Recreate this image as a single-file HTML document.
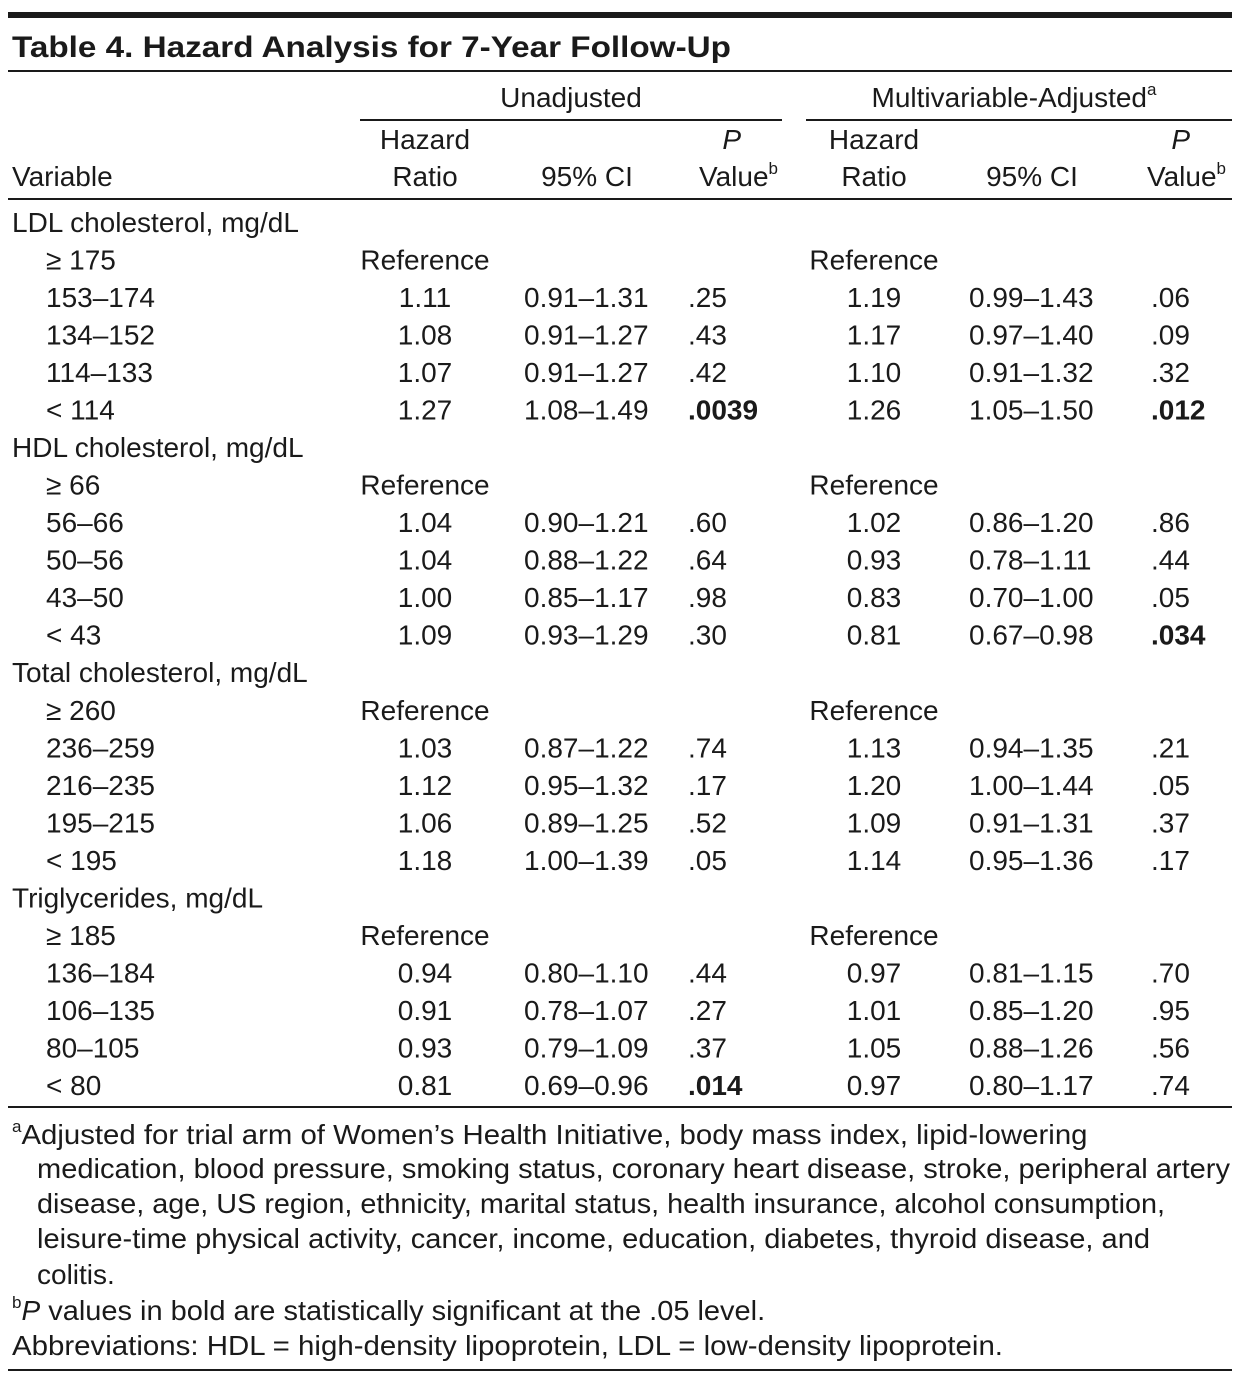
<!DOCTYPE html>
<html><head><meta charset="utf-8"><style>
html,body{margin:0;padding:0;background:#fff;}
svg{display:block;font-family:"Liberation Sans",sans-serif;}
text{fill:#1a1a1a;}
</style></head><body>
<svg id="tbl" width="1242" height="1387" viewBox="0 0 1242 1387">
<rect x="8" y="12" width="1224" height="6" fill="#1a1a1a"/>
<text x="12" y="57" font-size="30" font-weight="bold" textLength="719" lengthAdjust="spacingAndGlyphs">Table 4. Hazard Analysis for 7-Year Follow-Up</text>
<rect x="8" y="70" width="1224" height="2" fill="#1a1a1a"/>
<text x="571" y="107" font-size="28" text-anchor="middle">Unadjusted</text>
<rect x="360" y="119" width="422" height="2" fill="#1a1a1a"/>
<text x="1014" y="107" font-size="28" text-anchor="middle">Multivariable-Adjusted<tspan font-size="17" dy="-12">a</tspan></text>
<rect x="806" y="119" width="426" height="2" fill="#1a1a1a"/>
<text x="12" y="186" font-size="28">Variable</text>
<g font-size="28">
<text x="425" y="149" text-anchor="middle">Hazard</text><text x="425" y="186" text-anchor="middle">Ratio</text>
<text x="587" y="186" text-anchor="middle">95% CI</text>
<text x="741" y="149" text-anchor="end" font-style="italic">P</text><text x="778" y="186" text-anchor="end">Value<tspan font-size="17" dy="-12">b</tspan></text>
<text x="874" y="149" text-anchor="middle">Hazard</text><text x="874" y="186" text-anchor="middle">Ratio</text>
<text x="1032" y="186" text-anchor="middle">95% CI</text>
<text x="1190" y="149" text-anchor="end" font-style="italic">P</text><text x="1226" y="186" text-anchor="end">Value<tspan font-size="17" dy="-12">b</tspan></text>
</g>
<rect x="8" y="198" width="1224" height="2" fill="#1a1a1a"/>
<g id="body"></g>
<rect x="8" y="1106" width="1224" height="2" fill="#1a1a1a"/>
<g font-size="28">
<text x="12" y="1144"><tspan font-size="17" dy="-12">a</tspan><tspan dy="12" textLength="1066" lengthAdjust="spacingAndGlyphs">Adjusted for trial arm of Women’s Health Initiative, body mass index, lipid-lowering</tspan></text>
<text x="37" y="1178" textLength="1193" lengthAdjust="spacingAndGlyphs">medication, blood pressure, smoking status, coronary heart disease, stroke, peripheral artery</text>
<text x="37" y="1213" textLength="1128" lengthAdjust="spacingAndGlyphs">disease, age, US region, ethnicity, marital status, health insurance, alcohol consumption,</text>
<text x="37" y="1248" textLength="1113" lengthAdjust="spacingAndGlyphs">leisure-time physical activity, cancer, income, education, diabetes, thyroid disease, and</text>
<text x="37" y="1284">colitis.</text>
<text x="12" y="1320"><tspan font-size="17" dy="-12">b</tspan><tspan dy="12" font-style="italic">P</tspan><tspan textLength="725" lengthAdjust="spacingAndGlyphs"> values in bold are statistically significant at the .05 level.</tspan></text>
<text x="12" y="1355" textLength="991" lengthAdjust="spacingAndGlyphs">Abbreviations: HDL = high-density lipoprotein, LDL = low-density lipoprotein.</text>
</g>
<rect x="8" y="1369" width="1224" height="2" fill="#1a1a1a"/>
</svg>
<script>
const labels = ["LDL cholesterol, mg/dL","≥ 175","153–174","134–152","114–133","< 114","HDL cholesterol, mg/dL","≥ 66","56–66","50–56","43–50","< 43","Total cholesterol, mg/dL","≥ 260","236–259","216–235","195–215","< 195","Triglycerides, mg/dL","≥ 185","136–184","106–135","80–105","< 80"];
const hr1 = ["","Reference","1.11","1.08","1.07","1.27","","Reference","1.04","1.04","1.00","1.09","","Reference","1.03","1.12","1.06","1.18","","Reference","0.94","0.91","0.93","0.81"];
const ci1 = ["","","0.91–1.31","0.91–1.27","0.91–1.27","1.08–1.49","","","0.90–1.21","0.88–1.22","0.85–1.17","0.93–1.29","","","0.87–1.22","0.95–1.32","0.89–1.25","1.00–1.39","","","0.80–1.10","0.78–1.07","0.79–1.09","0.69–0.96"];
const p1 = ["","",".25",".43",".42",".0039","","",".60",".64",".98",".30","","",".74",".17",".52",".05","","",".44",".27",".37",".014"];
const hr2 = ["","Reference","1.19","1.17","1.10","1.26","","Reference","1.02","0.93","0.83","0.81","","Reference","1.13","1.20","1.09","1.14","","Reference","0.97","1.01","1.05","0.97"];
const ci2 = ["","","0.99–1.43","0.97–1.40","0.91–1.32","1.05–1.50","","","0.86–1.20","0.78–1.11","0.70–1.00","0.67–0.98","","","0.94–1.35","1.00–1.44","0.91–1.31","0.95–1.36","","","0.81–1.15","0.85–1.20","0.88–1.26","0.80–1.17"];
const p2 = ["","",".06",".09",".32",".012","","",".86",".44",".05",".034","","",".21",".05",".37",".17","","",".70",".95",".56",".74"];
const boldP = [".0039",".012",".034",".014"];
const NS="http://www.w3.org/2000/svg";
const body=document.getElementById('body');
function t(x,y,s,anchor,bold){
  const e=document.createElementNS(NS,'text');
  e.setAttribute('x',x);e.setAttribute('y',y);e.setAttribute('font-size','28');
  if(anchor)e.setAttribute('text-anchor',anchor);
  if(bold)e.setAttribute('font-weight','bold');
  e.textContent=s;body.appendChild(e);return e;
}
labels.forEach((lab,i)=>{
  const y=222+i*37.52+10;
  const cat = hr1[i]==="";
  const a=t(cat?12:46,y,lab);
  
  
  if(hr1[i]){const e=t(425,y,hr1[i],'middle');
    
    }
  if(ci1[i]){const e=t(524,y,ci1[i]);
    
    }
  if(p1[i]){const e=t(688,y,p1[i],null,boldP.includes(p1[i])&&i===5||p1[i]===".014");
    
    }
  if(hr2[i]){const e=t(874,y,hr2[i],'middle');
    
    }
  if(ci2[i]){const e=t(969,y,ci2[i]);
    
    }
  if(p2[i]){const e=t(1151,y,p2[i],null,(i===5||i===11));
    
    }
});
</script>
</body></html>
